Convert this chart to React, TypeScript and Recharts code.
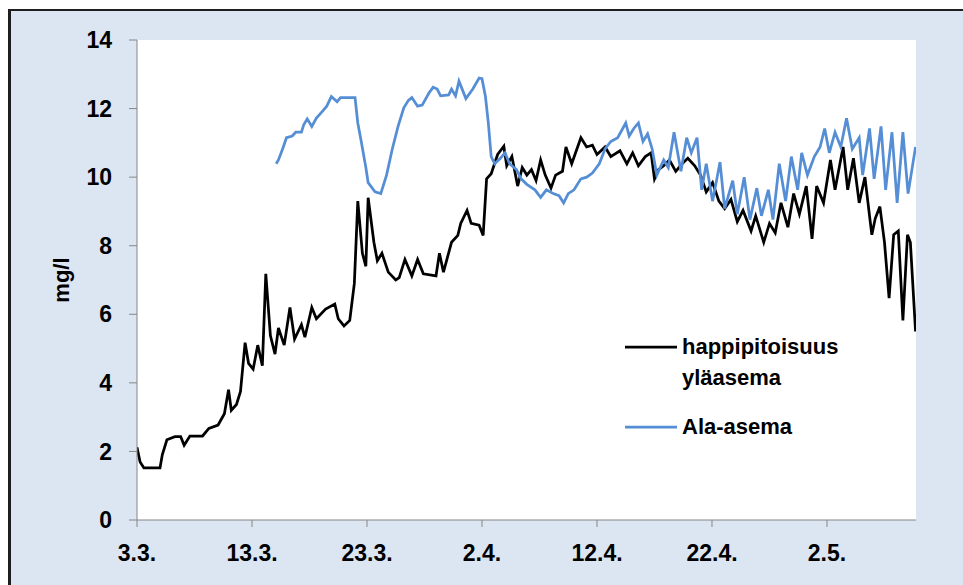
import { CartesianGrid, Label, Line, LineChart, XAxis, YAxis } from "recharts";

// days counted from 3.3.
const tickDays = [0, 10, 20, 30, 40, 50, 60];
const tickLabels = ["3.3.", "13.3.", "23.3.", "2.4.", "12.4.", "22.4.", "2.5."];
const yTicks = [0, 2, 4, 6, 8, 10, 12, 14];

const upperName = "happipitoisuus yläasema";
const lowerName = "Ala-asema";
const upperColor = "#000000";
const lowerColor = "#558ed5";

const upperDays = [
  0, 0.27, 0.6, 2.0, 2.2, 2.6, 3.3, 3.8, 4.1, 4.6, 5.7, 6.25, 7.05, 7.6, 7.96, 8.2,
  8.65, 9.0, 9.4, 9.7, 10.1, 10.5, 10.9, 11.2, 11.6, 12.0, 12.3, 12.8, 13.3, 13.7,
  14.3, 14.6, 15.2, 15.6, 16.4, 17.2, 17.5, 18.0, 18.5, 18.9, 19.2, 19.6, 19.9, 20.1,
  20.6, 20.9, 21.3, 21.85, 22.5, 22.8, 23.3, 23.9, 24.4, 24.9, 26.0, 26.3, 26.65,
  27.35, 27.9, 28.15, 28.7, 29.06, 29.75, 30.1, 30.4, 30.8, 31.36, 31.9, 32.15, 32.6,
  33.1, 33.5, 33.9, 34.3, 34.7, 35.1, 35.5, 36.0, 36.4, 37.0, 37.3, 37.8, 38.6, 39.1,
  39.6, 40.0, 40.7, 41.2, 42.0, 42.6, 43.1, 43.6, 44.2, 44.7, 45.0, 45.35, 45.8, 46.3,
  46.85, 47.4, 47.9, 48.5, 49.0, 49.5, 50.05, 50.6, 51.1, 51.65, 52.2, 52.7, 53.4,
  53.8, 54.5, 55.0, 55.5, 56.0, 56.6, 57.1, 57.6, 58.2, 58.7, 59.1, 59.7, 60.3, 60.7,
  61.4, 61.8, 62.3, 62.8, 63.3, 63.7, 63.9, 64.2, 64.6, 65.0, 65.4, 65.8, 66.2, 66.6,
  67.0, 67.25, 67.7,
];
const upperValues = [
  2.12, 1.69, 1.52, 1.52, 1.9, 2.34, 2.43, 2.43, 2.18, 2.45, 2.45, 2.67, 2.77, 3.1, 3.8,
  3.2, 3.37, 3.75, 5.17, 4.57, 4.4, 5.1, 4.5, 7.18, 5.38, 4.84, 5.6, 5.1, 6.2, 5.28,
  5.7, 5.33, 6.2, 5.87, 6.15, 6.3, 5.87, 5.66, 5.82, 6.9, 9.3, 7.78, 7.4, 9.4,
  8.1, 7.56, 7.78, 7.23, 7.0, 7.07, 7.6, 7.12, 7.6, 7.18, 7.12, 7.78, 7.23,
  8.1, 8.3, 8.65, 9.03, 8.65, 8.6, 8.3, 9.95, 10.1, 10.66, 10.9, 10.33, 10.6,
  9.74, 10.28, 10.06, 10.22, 9.9, 10.5, 10.06, 9.68, 10.06, 10.17, 10.88, 10.39, 11.15, 10.88,
  10.93, 10.66, 10.88, 10.6, 10.77, 10.39, 10.71, 10.33, 10.6, 10.71, 9.95, 10.22, 10.33, 10.5,
  10.17, 10.39, 10.55, 10.33, 10.06, 9.57, 9.84, 9.3, 9.08, 9.35, 8.7, 9.03, 8.43,
  8.87, 8.1, 8.65, 8.38, 9.25, 8.54, 9.52, 8.92, 9.74, 8.2, 9.74, 9.25, 10.5, 9.63,
  10.88, 9.63, 10.55, 9.25, 10.0, 8.87, 8.32, 8.8, 9.14, 8.1, 6.47, 8.32, 8.43, 5.82,
  8.32, 8.1, 5.5,
];

const lowerDays = [
  12.1, 12.3, 12.66, 13.0, 13.5, 13.8, 14.3, 14.5, 14.8, 15.2, 15.6, 16.1, 16.5, 16.9,
  17.4, 17.7, 18.96, 19.2, 19.5, 19.9, 20.1, 20.7, 21.2, 21.7, 22.2, 22.7, 23.2, 23.6,
  23.9, 24.4, 24.8, 25.4, 25.75, 26.1, 26.4, 27.1, 27.35, 27.7, 28.0, 28.6, 29.2,
  29.75, 30.0, 30.3, 30.55, 30.8, 31.1, 31.6, 32.0, 32.4, 33.0, 33.4, 33.9, 34.6,
  35.1, 35.6, 36.2, 36.7, 37.1, 37.5, 38.0, 38.6, 39.1, 39.6, 40.2, 40.7, 41.2, 41.8,
  42.5, 42.8, 43.2, 43.6, 44.0, 44.4, 44.8, 45.2, 45.8, 46.2, 46.7, 47.3, 47.8, 48.2,
  48.7, 49.1, 49.5, 50.05, 50.7, 51.1, 51.8, 52.2, 52.8, 53.3, 53.9, 54.3, 54.9, 55.3,
  55.85, 56.4, 56.9, 57.45, 57.8, 58.3, 58.9, 59.4, 59.8, 60.2, 60.7, 61.2, 61.7, 62.2,
  62.8, 63.1, 63.7, 64.1, 64.7, 65.1, 65.65, 66.1, 66.6, 67.05, 67.7,
];
const lowerValues = [
  10.39, 10.5, 10.82, 11.15, 11.2, 11.31, 11.31, 11.53, 11.7, 11.48, 11.72, 11.91, 12.07, 12.35,
  12.2, 12.32, 12.32, 11.58, 11.04, 10.28, 9.84, 9.57, 9.52, 10.06, 10.82, 11.48, 12.02, 12.24,
  12.32, 12.07, 12.1, 12.46, 12.62, 12.57, 12.37, 12.4, 12.57, 12.37, 12.8, 12.29, 12.57,
  12.89, 12.87, 12.35, 11.58, 10.6, 10.39, 10.55, 10.71, 10.39, 10.22, 9.95, 9.79, 9.63,
  9.41, 9.63, 9.52, 9.46, 9.25, 9.52, 9.63, 9.95, 10.0, 10.12, 10.39, 10.82, 11.04, 11.15,
  11.58, 11.2, 11.42, 11.58, 11.04, 11.26, 10.82, 10.06, 10.5, 10.28, 11.31, 10.17, 11.15, 10.71,
  11.15, 9.63, 10.39, 9.3, 10.44, 9.08, 9.9, 8.92, 10.0, 8.76, 9.68, 8.87, 9.63, 8.76,
  10.39, 9.3, 10.6, 9.63, 10.71, 10.06, 10.6, 10.88, 11.42, 10.71, 11.31, 10.88, 11.72, 10.82,
  11.15, 10.06, 11.42, 9.95, 11.48, 9.63, 11.31, 9.25, 11.31, 9.52, 10.88,
];

const upperData = upperDays.map((day, i) => ({ day, value: upperValues[i] }));
const lowerData = lowerDays.map((day, i) => ({ day, value: lowerValues[i] }));

const legendItems = [
  { name: upperName, color: upperColor },
  { name: lowerName, color: lowerColor },
];

const font = "'Liberation Sans', Arial, sans-serif";
const axisGray = "#868686";

function LegendBox() {
  return (
    <div
      style={{
        position: "absolute",
        left: 625,
        top: 331,
        fontFamily: font,
        fontWeight: 700,
        fontSize: 22,
        lineHeight: "31px",
        color: "#000",
      }}
    >
      {legendItems.map((item, i) => (
        <div key={i} style={{ display: "flex", alignItems: "flex-start", marginBottom: 18 }}>
          <svg width={52} height={31} style={{ flex: "none" }}>
            <line x1={0} y1={16} x2={52} y2={16} stroke={item.color} strokeWidth={2.75} />
          </svg>
          <div style={{ marginLeft: 5, width: 175, textAlign: "left" }}>{item.name}</div>
        </div>
      ))}
    </div>
  );
}

export default function App() {
  return (
    <div style={{ position: "fixed", left: 0, top: 0, width: 963, height: 585, background: "#fff" }}>
      <div
        style={{
          position: "absolute",
          left: 8,
          top: 9,
          right: 0,
          bottom: 0,
          background: "#dce6f2",
          borderTop: "2px solid #1e1e1e",
          borderLeft: "3px solid #1e1e1e",
        }}
      />
      <div style={{ position: "absolute", left: 0, top: 0 }}>
        <LineChart width={963} height={585} margin={{ top: 40, right: 47, left: 37, bottom: 5 }}>
          <CartesianGrid fill="#ffffff" stroke="none" />
          <XAxis
            type="number"
            dataKey="day"
            domain={[0, 67.74]}
            ticks={tickDays}
            tickFormatter={(v: number, i: number) => tickLabels[i]}
            allowDataOverflow
            height={60}
            tickSize={7}
            tickMargin={18}
            interval={0}
            axisLine={{ stroke: axisGray }}
            tickLine={{ stroke: axisGray }}
            tick={{ fontFamily: font, fontWeight: 700, fontSize: 23, fill: "#000" }}
          />
          <YAxis
            domain={[0, 14]}
            ticks={yTicks}
            interval={0}
            width={100}
            tickSize={8}
            tickMargin={17}
            axisLine={{ stroke: axisGray }}
            tickLine={{ stroke: axisGray }}
            tick={{ fontFamily: font, fontWeight: 700, fontSize: 23, fill: "#000" }}
          >
            <Label
              value="mg/l"
              angle={-90}
              position="insideLeft"
              offset={24}
              style={{ fontFamily: font, fontWeight: 700, fontSize: 22, fill: "#000", textAnchor: "middle" }}
            />
          </YAxis>
          <Line
            data={upperData}
            dataKey="value"
            name={upperName}
            stroke={upperColor}
            strokeWidth={2.75}
            dot={false}
            activeDot={false}
            isAnimationActive={false}
          />
          <Line
            data={lowerData}
            dataKey="value"
            name={lowerName}
            stroke={lowerColor}
            strokeWidth={2.75}
            dot={false}
            activeDot={false}
            isAnimationActive={false}
          />
        </LineChart>
      </div>
      <LegendBox />
    </div>
  );
}
